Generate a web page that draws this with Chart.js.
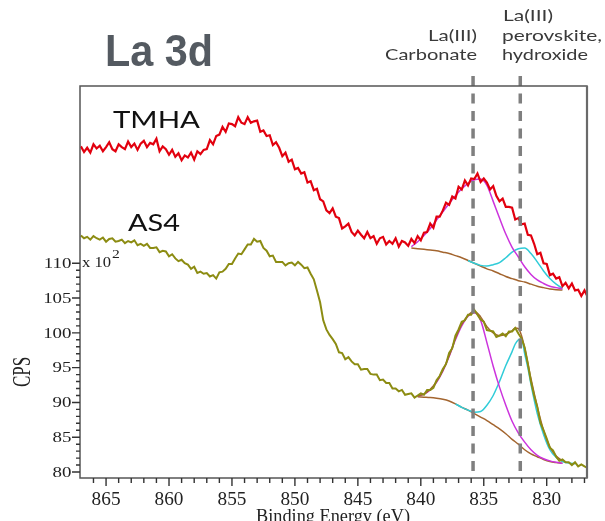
<!DOCTYPE html>
<html>
<head>
<meta charset="utf-8">
<title>La 3d XPS</title>
<script src="https://cdn.jsdelivr.net/npm/chart.js@4.4.1/dist/chart.umd.min.js"></script>
<style>
  html, body { margin: 0; padding: 0; background: #ffffff; }
  canvas { display: block; }
</style>
</head>
<body>
<canvas id="xps" width="605" height="521"></canvas>
<script>
// ---- Measured spectra (binding energy in eV, counts in units of 10^2 CPS) ----
const energy = [
  867.00,866.75,866.50,866.25,866.00,865.75,865.50,865.25,865.00,864.75,864.50,864.25,864.00,863.75,863.50,863.25,863.00,862.75,862.50,862.25,
  862.00,861.75,861.50,861.25,861.00,860.75,860.50,860.25,860.00,859.75,859.50,859.25,859.00,858.75,858.50,858.25,858.00,857.75,857.50,857.25,
  857.00,856.75,856.50,856.25,856.00,855.75,855.50,855.25,855.00,854.75,854.50,854.25,854.00,853.75,853.50,853.25,853.00,852.75,852.50,852.25,
  852.00,851.75,851.50,851.25,851.00,850.75,850.50,850.25,850.00,849.75,849.50,849.25,849.00,848.75,848.50,848.25,848.00,847.75,847.50,847.25,
  847.00,846.75,846.50,846.25,846.00,845.75,845.50,845.25,845.00,844.75,844.50,844.25,844.00,843.75,843.50,843.25,843.00,842.75,842.50,842.25,
  842.00,841.75,841.50,841.25,841.00,840.75,840.50,840.25,840.00,839.75,839.50,839.25,839.00,838.75,838.50,838.25,838.00,837.75,837.50,837.25,
  837.00,836.75,836.50,836.25,836.00,835.75,835.50,835.25,835.00,834.75,834.50,834.25,834.00,833.75,833.50,833.25,833.00,832.75,832.50,832.25,
  832.00,831.75,831.50,831.25,831.00,830.75,830.50,830.25,830.00,829.75,829.50,829.25,829.00,828.75,828.50,828.25,828.00,827.75,827.50,827.25,
  827.00,826.75
];

const cpsTMHA = [
  126.8,126.0,126.6,125.9,127.1,126.5,126.9,126.1,126.7,127.4,126.4,126.1,127.1,126.7,126.4,127.5,126.7,127.2,126.3,127.2,
  127.6,126.7,127.3,127.1,127.9,126.1,126.8,126.4,125.6,126.3,125.3,125.8,124.8,125.5,125.2,125.9,124.9,126.1,125.7,126.3,
  126.4,127.7,127.1,128.3,128.5,129.6,128.9,130.1,130.0,129.7,131.0,130.2,130.0,131.0,130.2,130.4,130.5,128.9,129.1,128.3,
  128.4,127.0,127.4,126.6,125.4,125.9,124.6,124.9,123.5,123.7,122.9,123.1,121.6,121.8,120.5,120.7,119.2,118.9,117.6,117.2,
  117.9,116.7,116.5,115.0,115.3,115.7,114.5,114.0,114.7,114.1,113.6,114.5,113.6,113.9,112.8,113.6,113.8,112.7,113.2,112.8,
  113.6,112.4,113.2,113.0,112.5,113.5,112.9,113.9,113.3,114.4,114.5,115.7,115.1,116.7,116.7,117.6,118.7,118.4,119.6,119.3,
  121.0,120.6,121.9,121.2,122.2,122.1,122.9,121.7,122.2,121.6,120.6,121.1,119.7,118.9,119.3,118.1,118.1,118.0,116.3,116.5,
  115.6,115.7,114.1,114.0,112.8,111.3,111.5,110.0,109.9,108.3,108.5,107.8,108.0,106.7,107.2,106.4,107.1,106.1,106.2,105.3,
  106.1,105.2
];

const cpsAS4 = [
  114.0,113.6,113.8,113.4,113.9,113.6,113.4,113.7,113.1,113.5,113.6,113.1,113.2,113.4,112.9,113.2,113.0,113.3,112.6,112.8,
  112.5,112.8,112.2,112.2,112.3,111.6,111.8,111.7,111.0,111.3,110.7,110.3,110.5,110.0,109.8,109.2,109.5,108.6,108.8,108.5,
  108.6,108.1,108.3,107.8,108.7,108.8,109.2,109.9,109.9,110.7,111.4,111.3,112.0,112.7,112.7,113.5,113.1,113.2,112.2,111.8,
  111.0,111.1,110.2,110.2,110.2,109.7,110.0,110.1,109.7,110.2,109.8,109.3,109.4,108.5,107.7,106.1,104.4,101.8,100.5,99.7,
  99.1,98.4,97.2,97.1,96.2,96.5,95.9,95.5,95.5,94.7,94.8,94.8,94.1,94.0,94.0,93.2,93.3,92.8,92.8,92.0,
  92.0,91.6,91.8,91.1,91.2,91.3,90.7,91.0,91.3,91.1,91.8,91.8,92.1,93.2,93.8,94.8,95.5,97.1,97.8,99.6,
  100.5,101.6,101.8,102.6,102.6,103.3,102.6,101.9,101.6,100.4,100.3,100.2,99.4,99.6,99.9,99.5,100.2,100.2,100.7,99.9,
  99.2,97.9,95.6,93.0,91.0,89.4,87.1,86.0,84.8,83.5,83.1,82.2,81.6,81.8,81.4,81.4,81.0,81.4,80.8,81.1,
  80.8,80.6
];

// ---- Peak fits ----
// TMHA: background and the two La(III) components
const fitEnergyTMHA = [840.75,840.25,839.75,839.25,838.75,838.25,837.75,837.25,836.75,836.25,835.75,835.25,834.75,834.25,833.75,833.25,832.75,832.25,831.75,831.25,830.75,830.25,829.75,829.25,828.75];
const bgTMHA   = [112.2,112.1,112.0,111.9,111.8,111.6,111.4,111.1,110.8,110.4,110.0,109.6,109.2,108.9,108.5,108.1,107.8,107.5,107.3,107.0,106.7,106.5,106.3,106.2,106.15];
const carbTMHA = [112.4,113.1,114.0,115.0,116.2,117.4,118.6,119.7,120.7,121.5,122.0,122.1,121.2,118.9,116.5,114.2,112.3,110.9,109.5,108.4,107.6,107.1,106.7,106.5,106.3];
const hydrEnergyTMHA = [836.25,835.75,835.25,834.75,834.25,833.75,833.25,832.75,832.25,831.75,831.25,830.75,830.25,829.75,829.25,828.75];
const hydrTMHA = [110.4,110.0,109.7,109.6,109.8,110.1,110.8,111.6,112.1,112.2,111.4,110.2,108.9,107.8,107.0,106.4];

// AS4: background, components and envelope
const fitEnergyAS4 = [840.25,839.75,839.25,838.75,838.25,837.75,837.25,836.75,836.25,835.75,835.25,834.75,834.25,833.75,833.25,832.75,832.25,831.75,831.25,830.75,830.25,829.75,829.25,828.75];
const bgAS4   = [90.8,90.75,90.7,90.6,90.45,90.2,89.8,89.3,88.9,88.4,87.9,87.4,86.8,86.2,85.5,84.7,84.0,83.2,82.6,82.2,81.8,81.5,81.35,81.25];
const carbAS4 = [90.9,91.2,91.8,92.9,94.5,96.6,99.0,101.0,102.4,102.9,101.8,98.6,95.2,92.2,89.6,87.3,85.6,84.3,83.2,82.4,81.9,81.6,81.4,81.25];
const hydrEnergyAS4 = [837.25,836.75,836.25,835.75,835.25,834.75,834.25,833.75,833.25,832.75,832.5,832.25,832.0,831.75,831.5,831.25,830.75,830.25,829.75,829.25,828.75,828.25,827.75];
const hydrAS4 = [89.8,89.3,88.9,88.6,88.7,89.6,91.0,93.0,95.3,97.3,98.4,99.0,99.1,97.0,95.0,92.6,88.4,85.4,83.2,82.1,81.5,81.3,81.2];
const envEnergyAS4 = [840.25,839.75,839.25,838.75,838.25,837.75,837.25,836.75,836.25,835.75,835.25,834.75,834.25,833.75,833.25,832.75,832.5,832.25,832.0,831.75,831.25,830.75,830.25,829.75,829.25,828.75];
const envAS4 = [90.9,91.2,91.9,93.0,94.6,96.7,99.2,101.2,102.5,103.1,102.3,100.9,100.0,99.6,99.8,100.3,100.7,100.6,99.6,97.8,93.4,89.4,86.0,83.6,82.3,81.6];

// ---- Axes ----
const xMajorTicks = [865, 860, 855, 850, 845, 840, 835, 830];
const xMinorTicks = [866,864,863,862,861,859,858,857,856,854,853,852,851,849,848,847,846,844,843,842,841,839,838,837,836,834,833,832,831,829,828,827];
const yMajorTicks = [80, 85, 90, 95, 100, 105, 110];
const yMinorTicks = [81,82,83,84,86,87,88,89,91,92,93,94,96,97,98,99,101,102,103,104,106,107,108,109];

// Reference binding energies of the La(III) species
const refLines = [835.85, 832.1];

const xy = (xs, ys) => xs.map((x, i) => ({ x: x, y: ys[i] }));

function drawText(ctx, text, x, y, font, color, align, sx, targetWidth) {
  ctx.save();
  ctx.font = font;
  ctx.fillStyle = color;
  ctx.textBaseline = 'alphabetic';
  ctx.textAlign = align || 'left';
  let s = sx || 1;
  if (targetWidth) s = targetWidth / ctx.measureText(text).width;
  ctx.translate(x, y);
  ctx.scale(s, 1);
  ctx.fillText(text, 0, 0);
  ctx.restore();
}

const SERIF = '"Liberation Serif", "Times New Roman", serif';
const SANS = 'Lato, "Open Sans", sans-serif';

// Frame, ticks, tick labels and annotations
const decorations = {
  id: 'decorations',
  afterDatasetsDraw(chart) {
    const ctx = chart.ctx;
    const xs = chart.scales.x;
    const a = chart.chartArea;

    // reference energy markers
    ctx.save();
    ctx.strokeStyle = '#7f7f7f';
    ctx.lineWidth = 3.5;
    ctx.setLineDash([10, 7.5]);
    refLines.forEach(e => {
      const px = xs.getPixelForValue(e);
      ctx.beginPath();
      ctx.moveTo(px, 76);
      ctx.lineTo(px, a.bottom);
      ctx.stroke();
    });
    ctx.restore();
  },
  afterDraw(chart) {
    const ctx = chart.ctx;
    const xs = chart.scales.x, ys = chart.scales.y;
    const a = chart.chartArea;

    // plot frame
    ctx.save();
    ctx.strokeStyle = '#565656';
    ctx.lineWidth = 1.5;
    ctx.strokeRect(a.left, a.top, a.right - a.left, a.bottom - a.top);
    ctx.strokeStyle = '#6a6a6a';
    ctx.lineWidth = 2.2;
    ctx.beginPath();
    ctx.moveTo(a.right, a.top);
    ctx.lineTo(a.right, a.bottom);
    ctx.stroke();

    // tick marks
    ctx.strokeStyle = '#333';
    ctx.lineWidth = 1.4;
    ctx.beginPath();
    yMajorTicks.forEach(v => { const p = ys.getPixelForValue(v); ctx.moveTo(a.left - 8, p); ctx.lineTo(a.left, p); });
    yMinorTicks.forEach(v => { const p = ys.getPixelForValue(v); ctx.moveTo(a.left - 4, p); ctx.lineTo(a.left, p); });
    xMajorTicks.forEach(v => { const p = xs.getPixelForValue(v); ctx.moveTo(p, a.bottom); ctx.lineTo(p, a.bottom + 8); });
    xMinorTicks.forEach(v => { const p = xs.getPixelForValue(v); ctx.moveTo(p, a.bottom); ctx.lineTo(p, a.bottom + 5); });
    ctx.stroke();
    ctx.restore();

    // tick labels
    yMajorTicks.forEach(v => {
      drawText(ctx, String(v), a.left - 8.5, ys.getPixelForValue(v) + 4.7, '14px ' + SERIF, '#222', 'right', 1.35);
    });
    xMajorTicks.forEach(v => {
      drawText(ctx, String(v), xs.getPixelForValue(v), a.bottom + 27, '18px ' + SERIF, '#222', 'center', 1.07);
    });

    // scale factor note
    drawText(ctx, 'x 10', 82, 266.5, '14px ' + SERIF, '#222', 'left', 0, 29);
    drawText(ctx, '2', 112, 257.5, '12px ' + SERIF, '#222', 'left', 1.3);

    // axis titles
    ctx.save();
    ctx.translate(24, 372);
    ctx.scale(1.45, 1);
    ctx.rotate(-Math.PI / 2);
    ctx.font = '17px ' + SERIF;
    ctx.fillStyle = '#222';
    ctx.textAlign = 'center';
    ctx.textBaseline = 'middle';
    ctx.fillText('CPS', 0, 0);
    ctx.restore();
    drawText(ctx, 'Binding Energy (eV)', 333, 522, '18px ' + SERIF, '#222', 'center', 0, 154);

    // heading and sample names
    drawText(ctx, 'La 3d', 105, 66, 'bold 45px "Liberation Sans", Arial, sans-serif', '#545a61', 'left', 0, 108);
    drawText(ctx, 'TMHA', 113, 127.5, '24px ' + SANS, '#111', 'left', 0, 87);
    drawText(ctx, 'AS4', 128, 231, '24px ' + SANS, '#111', 'left', 0, 52);

    // species labels
    const lc = '#3a3a3a', lf = '16px ' + SANS;
    drawText(ctx, 'La(III)', 477, 40.5, lf, lc, 'right', 0, 49);
    drawText(ctx, 'Carbonate', 477, 60, lf, lc, 'right', 0, 92);
    drawText(ctx, 'La(III)', 503, 20.5, lf, lc, 'left', 0, 50);
    drawText(ctx, 'perovskite,', 502, 40.5, lf, lc, 'left', 0, 100);
    drawText(ctx, 'hydroxide', 502, 60, lf, lc, 'left', 0, 86);
  }
};

const fitStyle = (color) => ({
  borderColor: color, borderWidth: 1.5, pointRadius: 0,
  cubicInterpolationMode: 'monotone', fill: false
});

new Chart(document.getElementById('xps'), {
  type: 'line',
  data: {
    datasets: [
      { label: 'TMHA', data: xy(energy, cpsTMHA), borderColor: '#e2000e', borderWidth: 2.2, pointRadius: 0, tension: 0 },
      { label: 'AS4', data: xy(energy, cpsAS4), borderColor: '#8c8c12', borderWidth: 2, pointRadius: 0, tension: 0 },
      Object.assign({ label: 'AS4 envelope', data: xy(envEnergyAS4, envAS4) }, fitStyle('#a3652f')),
      Object.assign({ label: 'AS4 carbonate', data: xy(fitEnergyAS4, carbAS4) }, fitStyle('#cc33dd')),
      Object.assign({ label: 'AS4 perovskite/hydroxide', data: xy(hydrEnergyAS4, hydrAS4) }, fitStyle('#30ccd8')),
      Object.assign({ label: 'AS4 background', data: xy(fitEnergyAS4, bgAS4) }, fitStyle('#a3652f')),
      Object.assign({ label: 'TMHA carbonate', data: xy(fitEnergyTMHA, carbTMHA) }, fitStyle('#cc33dd')),
      Object.assign({ label: 'TMHA perovskite/hydroxide', data: xy(hydrEnergyTMHA, hydrTMHA) }, fitStyle('#30ccd8')),
      Object.assign({ label: 'TMHA background', data: xy(fitEnergyTMHA, bgTMHA) }, fitStyle('#a3652f'))
    ]
  },
  options: {
    responsive: false,
    devicePixelRatio: 1,
    animation: false,
    layout: { padding: { left: 0, right: 18, top: 86, bottom: 0 } },
    plugins: { legend: { display: false }, tooltip: { enabled: false }, title: { display: false } },
    scales: {
      x: {
        type: 'linear', reverse: true, min: 826.8, max: 867.07,
        grid: { display: false }, border: { display: false }, ticks: { display: false },
        afterFit(s) { s.height = 43; }
      },
      y: {
        type: 'linear', min: 79.14, max: 135.48,
        grid: { display: false }, border: { display: false }, ticks: { display: false },
        afterFit(s) { s.width = 80; }
      }
    }
  },
  plugins: [decorations]
});
</script>
</body>
</html>
